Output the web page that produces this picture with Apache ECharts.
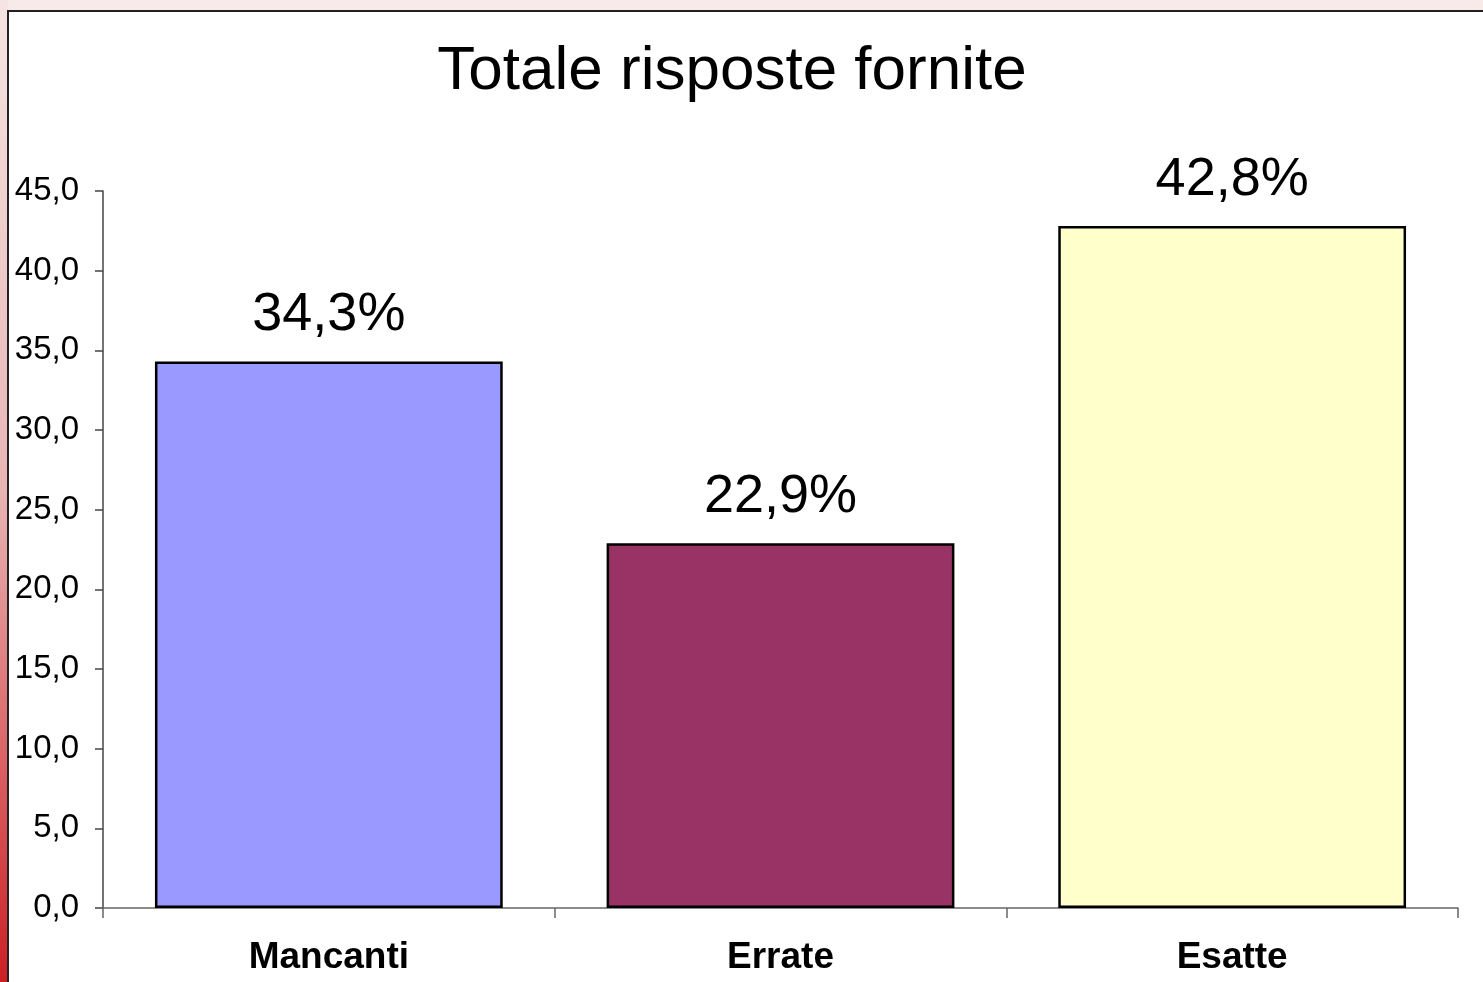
<!DOCTYPE html>
<html>
<head>
<meta charset="utf-8">
<script src="https://cdn.jsdelivr.net/npm/echarts@6/dist/echarts.min.js"></script>
<style>
html,body{margin:0;padding:0;width:1483px;height:982px;overflow:hidden;background:#f8eae9;}
#chart{position:absolute;left:0;top:0;width:1483px;height:982px;}
</style>
</head>
<body>
<div id="chart"></div>
<script>
const categories = ['Mancanti', 'Errate', 'Esatte'];
const values = [34.3, 22.9, 42.8];
const barColors = ['#9999ff', '#993366', '#ffffcc'];
const titleText = 'Totale risposte fornite';

const chart = echarts.init(document.getElementById('chart'), null, {renderer: 'canvas'});
const fmt = v => v.toFixed(1).replace('.', ',');
const FONT = 'Liberation Sans, Arial, sans-serif';

chart.setOption({
  animation: false,
  backgroundColor: 'transparent',
  graphic: [
    {type: 'rect', z: -10, silent: true, shape: {x: 0, y: 0, width: 8, height: 982},
     style: {fill: new echarts.graphic.LinearGradient(0, 0, 0, 1, [
       {offset: 0, color: '#f5e4e3'}, {offset: 0.5, color: '#e9b4b4'}, {offset: 1, color: '#cc1f24'}])}},
    {type: 'rect', z: -10, silent: true, shape: {x: 8, y: 10, width: 1475, height: 972},
     style: {fill: '#ffffff'}},
    {type: 'line', z: -9, silent: true, shape: {x1: 7, y1: 11, x2: 1483, y2: 11},
     style: {stroke: '#222', lineWidth: 2}},
    {type: 'line', z: -9, silent: true, shape: {x1: 8, y1: 10, x2: 8, y2: 982},
     style: {stroke: '#222', lineWidth: 2}}
  ],
  title: {
    text: titleText,
    left: 727,
    top: 36,
    textAlign: 'center',
    textStyle: {fontFamily: FONT, fontSize: 62, fontWeight: 'normal', color: '#000'}
  },
  grid: {left: 103, right: 25, top: 191, bottom: 74, containLabel: false},
  xAxis: {
    type: 'category',
    data: categories,
    boundaryGap: true,
    axisLine: {lineStyle: {color: '#666', width: 1.5}},
    axisTick: {show: true, length: 10, lineStyle: {color: '#666', width: 1.5}},
    axisLabel: {margin: 31, color: '#000', fontFamily: FONT, fontSize: 37, fontWeight: 'bold'}
  },
  yAxis: {
    type: 'value',
    min: 0, max: 45, interval: 5,
    splitLine: {show: false},
    axisLine: {show: true, lineStyle: {color: '#444', width: 1.5}},
    axisTick: {show: true, length: 8, lineStyle: {color: '#444', width: 1.5}},
    axisLabel: {margin: 24, color: '#000', fontFamily: FONT, fontSize: 33, formatter: v => fmt(v)}
  },
  series: [{
    type: 'bar',
    barWidth: '77%',
    data: values.map((v, i) => ({value: v, itemStyle: {color: barColors[i]}})),
    itemStyle: {borderColor: '#000', borderWidth: 2.5},
    label: {
      show: true, position: 'top', distance: 19,
      color: '#000', fontFamily: FONT, fontSize: 54,
      formatter: p => fmt(p.value) + '%'
    }
  }]
});
</script>
</body>
</html>
